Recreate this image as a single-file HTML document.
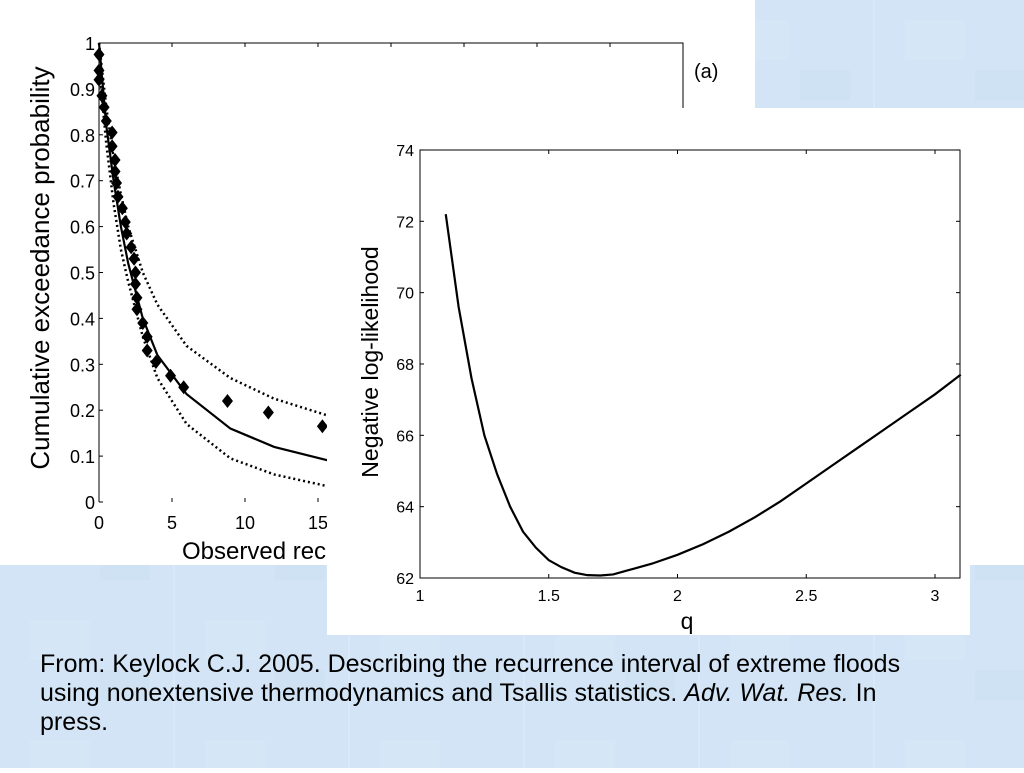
<!DOCTYPE html>
<html><head><meta charset="utf-8"><style>
body{margin:0;width:1024px;height:768px;overflow:hidden;background:#fff;font-family:"Liberation Sans",sans-serif}
svg text{font-family:"Liberation Sans",sans-serif}
</style></head><body>
<svg width="1024" height="768" viewBox="0 0 1024 768">
<defs>
<pattern id="tex" width="175" height="120" patternUnits="userSpaceOnUse">
<rect width="175" height="120" fill="#d2e4f5"/>
<rect x="30" y="20" width="60" height="40" fill="#d8e8f7" opacity="0.5"/>
<rect x="100" y="70" width="50" height="30" fill="#cbdff2" opacity="0.5"/>
<line x1="174" y1="0" x2="174" y2="120" stroke="#e2edf9" stroke-width="1"/>
</pattern>
</defs>
<rect x="755" y="0" width="269" height="108" fill="url(#tex)"/>
<rect x="0" y="565" width="1024" height="203" fill="url(#tex)"/>
<g id="chartA"></g>
<rect x="327" y="108" width="643" height="527" fill="#fff"/>
<g id="chartB"></g>
<text x="40" y="672" font-size="25" fill="#000">From: Keylock C.J. 2005. Describing the recurrence interval of extreme floods</text>
<text x="40" y="701" font-size="25" fill="#000">using nonextensive thermodynamics and Tsallis statistics. <tspan font-style="italic">Adv. Wat. Res.</tspan> In</text>
<text x="40" y="730" font-size="25" fill="#000">press.</text>
</svg>
<script>
const NS="http://www.w3.org/2000/svg";
function mk(p,t,a){const e=document.createElementNS(NS,t);for(const k in a)e.setAttribute(k,a[k]);p.appendChild(e);return e;}

// Chart A data
const aTicksX=[0,5,10,15,20,25,30,35,40];
const aTicksY=[0,0.1,0.2,0.3,0.4,0.5,0.6,0.7,0.8,0.9,1];
const obsX=[0,0,0,0.2,0.35,0.5,0.9,0.9,1.1,1.1,1.2,1.3,1.6,1.8,1.9,2.2,2.4,2.5,2.5,2.6,2.6,3,3.3,3.3,3.9,4.9,5.8,8.8,11.6,15.3];
const obsY=[0.975,0.94,0.92,0.885,0.86,0.83,0.805,0.775,0.745,0.72,0.695,0.665,0.64,0.61,0.585,0.555,0.53,0.5,0.475,0.445,0.42,0.39,0.36,0.33,0.305,0.275,0.25,0.22,0.195,0.165];
const fitX=[0,0.5,1,1.5,2,3,4,6,9,12,16];
const fitY=[1,0.82,0.7,0.6,0.52,0.4,0.32,0.235,0.16,0.12,0.088];
const upY=[1,0.86,0.75,0.67,0.6,0.5,0.43,0.34,0.27,0.225,0.185];
const loY=[0.95,0.78,0.65,0.55,0.48,0.36,0.27,0.17,0.095,0.06,0.032];

// Chart B data
const bTicksX=[1,1.5,2,2.5,3];
const bTicksY=[62,64,66,68,70,72,74];
const qVals=[1.1,1.15,1.2,1.25,1.3,1.35,1.4,1.45,1.5,1.55,1.6,1.65,1.7,1.75,1.8,1.9,2.0,2.1,2.2,2.3,2.4,2.5,2.6,2.7,2.8,2.9,3.0,3.1];
const nllVals=[72.2,69.6,67.6,66.0,64.9,64.0,63.3,62.85,62.5,62.3,62.15,62.08,62.07,62.1,62.2,62.4,62.65,62.95,63.3,63.7,64.15,64.65,65.15,65.65,66.15,66.65,67.15,67.7];

// Chart A
const A=document.getElementById('chartA');
const ax=v=>99+v*14.6, ay=v=>502-v*459;
mk(A,'path',{d:`M99,502 L99,43 L683,43 L683,108`,fill:'none',stroke:'#000','stroke-width':1});
aTicksX.forEach(t=>{
 const l=mk(A,'line',{x1:ax(t),x2:ax(t),y1:43,y2:47,stroke:'#000'});
 
 if(t<=15){const l2=mk(A,'line',{x1:ax(t),x2:ax(t),y1:502,y2:498,stroke:'#000'});
 
 const tx=mk(A,'text',{x:ax(t),y:529,'font-size':18,'text-anchor':'middle'});tx.textContent=t;
 }
});
aTicksY.forEach(t=>{
 const l=mk(A,'line',{x1:99,x2:103,y1:ay(t),y2:ay(t),stroke:'#000'});
 
 const tx=mk(A,'text',{x:95,y:ay(t)+7,'font-size':18,'text-anchor':'end'});tx.textContent=t;
 
});
const yl=mk(A,'text',{x:0,y:0,'font-size':26,'text-anchor':'middle',transform:'translate(49,268) rotate(-90)'});yl.textContent='Cumulative exceedance probability';

const xl=mk(A,'text',{x:182,y:559,'font-size':24});xl.textContent='Observed recurrence interval (years)';

const la=mk(A,'text',{x:694,y:78,'font-size':20});la.textContent='(a)';

const pts=(xs,ys)=>xs.map((x,i)=>ax(x)+','+ay(ys[i])).join(' ');
const pu=mk(A,'polyline',{points:pts(fitX,upY),fill:'none',stroke:'#000','stroke-width':2.5,'stroke-dasharray':'2 3'});

const pl=mk(A,'polyline',{points:pts(fitX,loY),fill:'none',stroke:'#000','stroke-width':2.5,'stroke-dasharray':'2 3'});

const pf=mk(A,'polyline',{points:pts(fitX,fitY),fill:'none',stroke:'#000','stroke-width':2.2});

obsX.forEach((x,i)=>{const cx=ax(x),cy=ay(obsY[i]);
 const d=mk(A,'polygon',{points:`${cx},${cy-7} ${cx+5.5},${cy} ${cx},${cy+7} ${cx-5.5},${cy}`,fill:'#000'});
 
});

// Chart B
const B=document.getElementById('chartB');
const bx=v=>420+(v-1)*257.5, by=v=>578-(v-62)*35.67;
const fr=mk(B,'rect',{x:420,y:150,width:540,height:428,fill:'none',stroke:'#000','stroke-width':1});

bTicksX.forEach(t=>{
 mk(B,'line',{x1:bx(t),x2:bx(t),y1:578,y2:574,stroke:'#000'});
 mk(B,'line',{x1:bx(t),x2:bx(t),y1:150,y2:154,stroke:'#000'});
 const tx=mk(B,'text',{x:bx(t),y:601,'font-size':16,'text-anchor':'middle'});tx.textContent=t;
 
});
bTicksY.forEach(t=>{
 mk(B,'line',{x1:420,x2:424,y1:by(t),y2:by(t),stroke:'#000'});
 mk(B,'line',{x1:960,x2:956,y1:by(t),y2:by(t),stroke:'#000'});
 const tx=mk(B,'text',{x:414,y:by(t)+6,'font-size':16,'text-anchor':'end'});tx.textContent=t;
 
});
const byl=mk(B,'text',{x:0,y:0,'font-size':23,'text-anchor':'middle',transform:'translate(378,362) rotate(-90)'});byl.textContent='Negative log-likelihood';

const bxl=mk(B,'text',{x:687,y:629,'font-size':23,'text-anchor':'middle'});bxl.textContent='q';

const bc=mk(B,'polyline',{points:qVals.map((q,i)=>bx(q)+','+by(nllVals[i])).join(' '),fill:'none',stroke:'#000','stroke-width':2.2});

</script>
</body></html>
